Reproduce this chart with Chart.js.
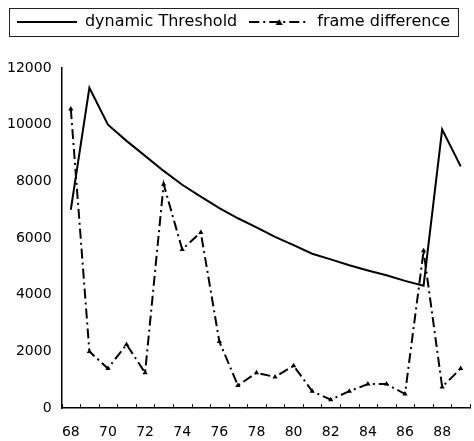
<!DOCTYPE html>
<html>
<head>
<meta charset="utf-8">
<script src="https://cdn.jsdelivr.net/npm/chart.js@4/dist/chart.umd.min.js"></script>
<style>
  body { margin: 0; background: #fff; }
</style>
</head>
<body>
<canvas id="myChart" width="474" height="441"></canvas>
<script>
// datos
const frames = [68, 69, 70, 71, 72, 73, 74, 75, 76, 77, 78, 79, 80, 81, 82, 83, 84, 85, 86, 87, 88, 89];
const dynamicThreshold = [7000, 11300, 10000, 9430, 8900, 8370, 7880, 7460, 7060, 6700, 6380, 6040, 5750, 5450, 5250, 5040, 4860, 4690, 4490, 4320, 9830, 8530];
const frameDifference = [10550, 2000, 1400, 2250, 1250, 7900, 5600, 6200, 2350, 800, 1250, 1100, 1500, 600, 300, 600, 850, 850, 500, 5550, 750, 1400];
const yTicks = [0, 2000, 4000, 6000, 8000, 10000, 12000];

const fontFamily = "'DejaVu Sans', sans-serif";
const dashFrame = [10, 4, 2, 4];

// muestras de la leyenda
function legendSample(width, dash, marker) {
  const c = document.createElement("canvas");
  c.width = width;
  c.height = 10;
  const g = c.getContext("2d");
  g.strokeStyle = "#000";
  g.lineWidth = 2;
  g.setLineDash(dash);
  g.beginPath();
  g.moveTo(0, 5);
  g.lineTo(width, 5);
  g.stroke();
  if (marker) {
    g.fillStyle = "#000";
    g.beginPath();
    g.moveTo(width / 2, 2);
    g.lineTo(width / 2 + 3.5, 8);
    g.lineTo(width / 2 - 3.5, 8);
    g.closePath();
    g.fill();
  }
  return c;
}

// espacio extra bajo la leyenda
const legendGap = {
  id: "legendGap",
  beforeInit(chart) {
    const origFit = chart.legend.fit;
    chart.legend.fit = function () {
      origFit.bind(chart.legend)();
      this.height += 28;
    };
  }
};

// ticks hacia adentro entre categorías + marco de la leyenda
const extras = {
  id: "extras",
  afterDraw(chart) {
    const ctx = chart.ctx;
    const x = chart.scales.x;
    const yBase = chart.scales.y.getPixelForValue(0);
    const half = (x.getPixelForValue(1) - x.getPixelForValue(0)) / 2;
    ctx.save();
    ctx.strokeStyle = "#000";
    ctx.lineWidth = 1;
    for (let i = 0; i <= frames.length; i++) {
      const px = Math.round(x.getPixelForValue(i) - half) + 0.5;
      ctx.beginPath();
      ctx.moveTo(px, yBase);
      ctx.lineTo(px, yBase - 4);
      ctx.stroke();
    }
    const boxes = chart.legend.legendHitBoxes;
    if (boxes && boxes.length) {
      const l = Math.min(...boxes.map(b => b.left)) - 8;
      const r = Math.max(...boxes.map(b => b.left + b.width)) + 8;
      const t = Math.min(...boxes.map(b => b.top)) - 6;
      const bt = Math.max(...boxes.map(b => b.top + b.height)) + 6;
      ctx.strokeStyle = "#222";
      ctx.strokeRect(Math.round(l) + 0.5, Math.round(t) + 0.5, Math.round(r - l), Math.round(bt - t));
    }
    ctx.restore();
  }
};

const samples = [legendSample(60, [], false), legendSample(60, dashFrame, true)];

const config = {
  type: "line",
  data: {
    labels: frames.map(String),
    datasets: [
      {
        label: "dynamic Threshold",
        data: dynamicThreshold,
        borderColor: "#000",
        borderWidth: 2,
        pointRadius: 0,
        tension: 0
      },
      {
        label: "frame difference",
        data: frameDifference,
        borderColor: "#000",
        backgroundColor: "#000",
        borderWidth: 2,
        borderDash: dashFrame,
        pointStyle: "triangle",
        pointRadius: 3,
        pointBorderWidth: 0,
        tension: 0
      }
    ]
  },
  options: {
    responsive: false,
    devicePixelRatio: 1,
    animation: false,
    layout: { padding: { left: -3, right: 4, top: 2, bottom: -16 } },
    plugins: {
      tooltip: { enabled: false },
      legend: {
        position: "top",
        labels: {
          color: "#000",
          font: { family: fontFamily, size: 16 },
          usePointStyle: true,
          pointStyleWidth: 60,
          boxHeight: 10,
          padding: 12,
          generateLabels: (chart) => chart.data.datasets.map((ds, i) => ({
            text: ds.label,
            pointStyle: samples[i],
            datasetIndex: i,
            lineWidth: 0,
            fontColor: "#000"
          }))
        }
      }
    },
    scales: {
      x: {
        type: "category",
        offset: true,
        afterFit: (s) => { s.paddingRight = 0; },
        grid: { display: false, drawTicks: false },
        border: { color: "#000", width: 1.5 },
        ticks: {
          color: "#000",
          autoSkip: false,
          maxRotation: 0,
          padding: 16,
          font: { family: fontFamily, size: 14 },
          callback: (v, i) => (i % 2 === 0 ? frames[i] : "")
        }
      },
      y: {
        min: 0,
        max: 12000,
        afterBuildTicks: (axis) => { axis.ticks = yTicks.map(v => ({ value: v })); },
        grid: { display: false, drawTicks: false },
        border: { color: "#000", width: 1.5 },
        ticks: {
          color: "#000",
          padding: 10,
          font: { family: fontFamily, size: 14 },
          callback: (v) => String(v)
        }
      }
    }
  },
  plugins: [legendGap, extras]
};

new Chart(document.getElementById("myChart"), config);
</script>
</body>
</html>
